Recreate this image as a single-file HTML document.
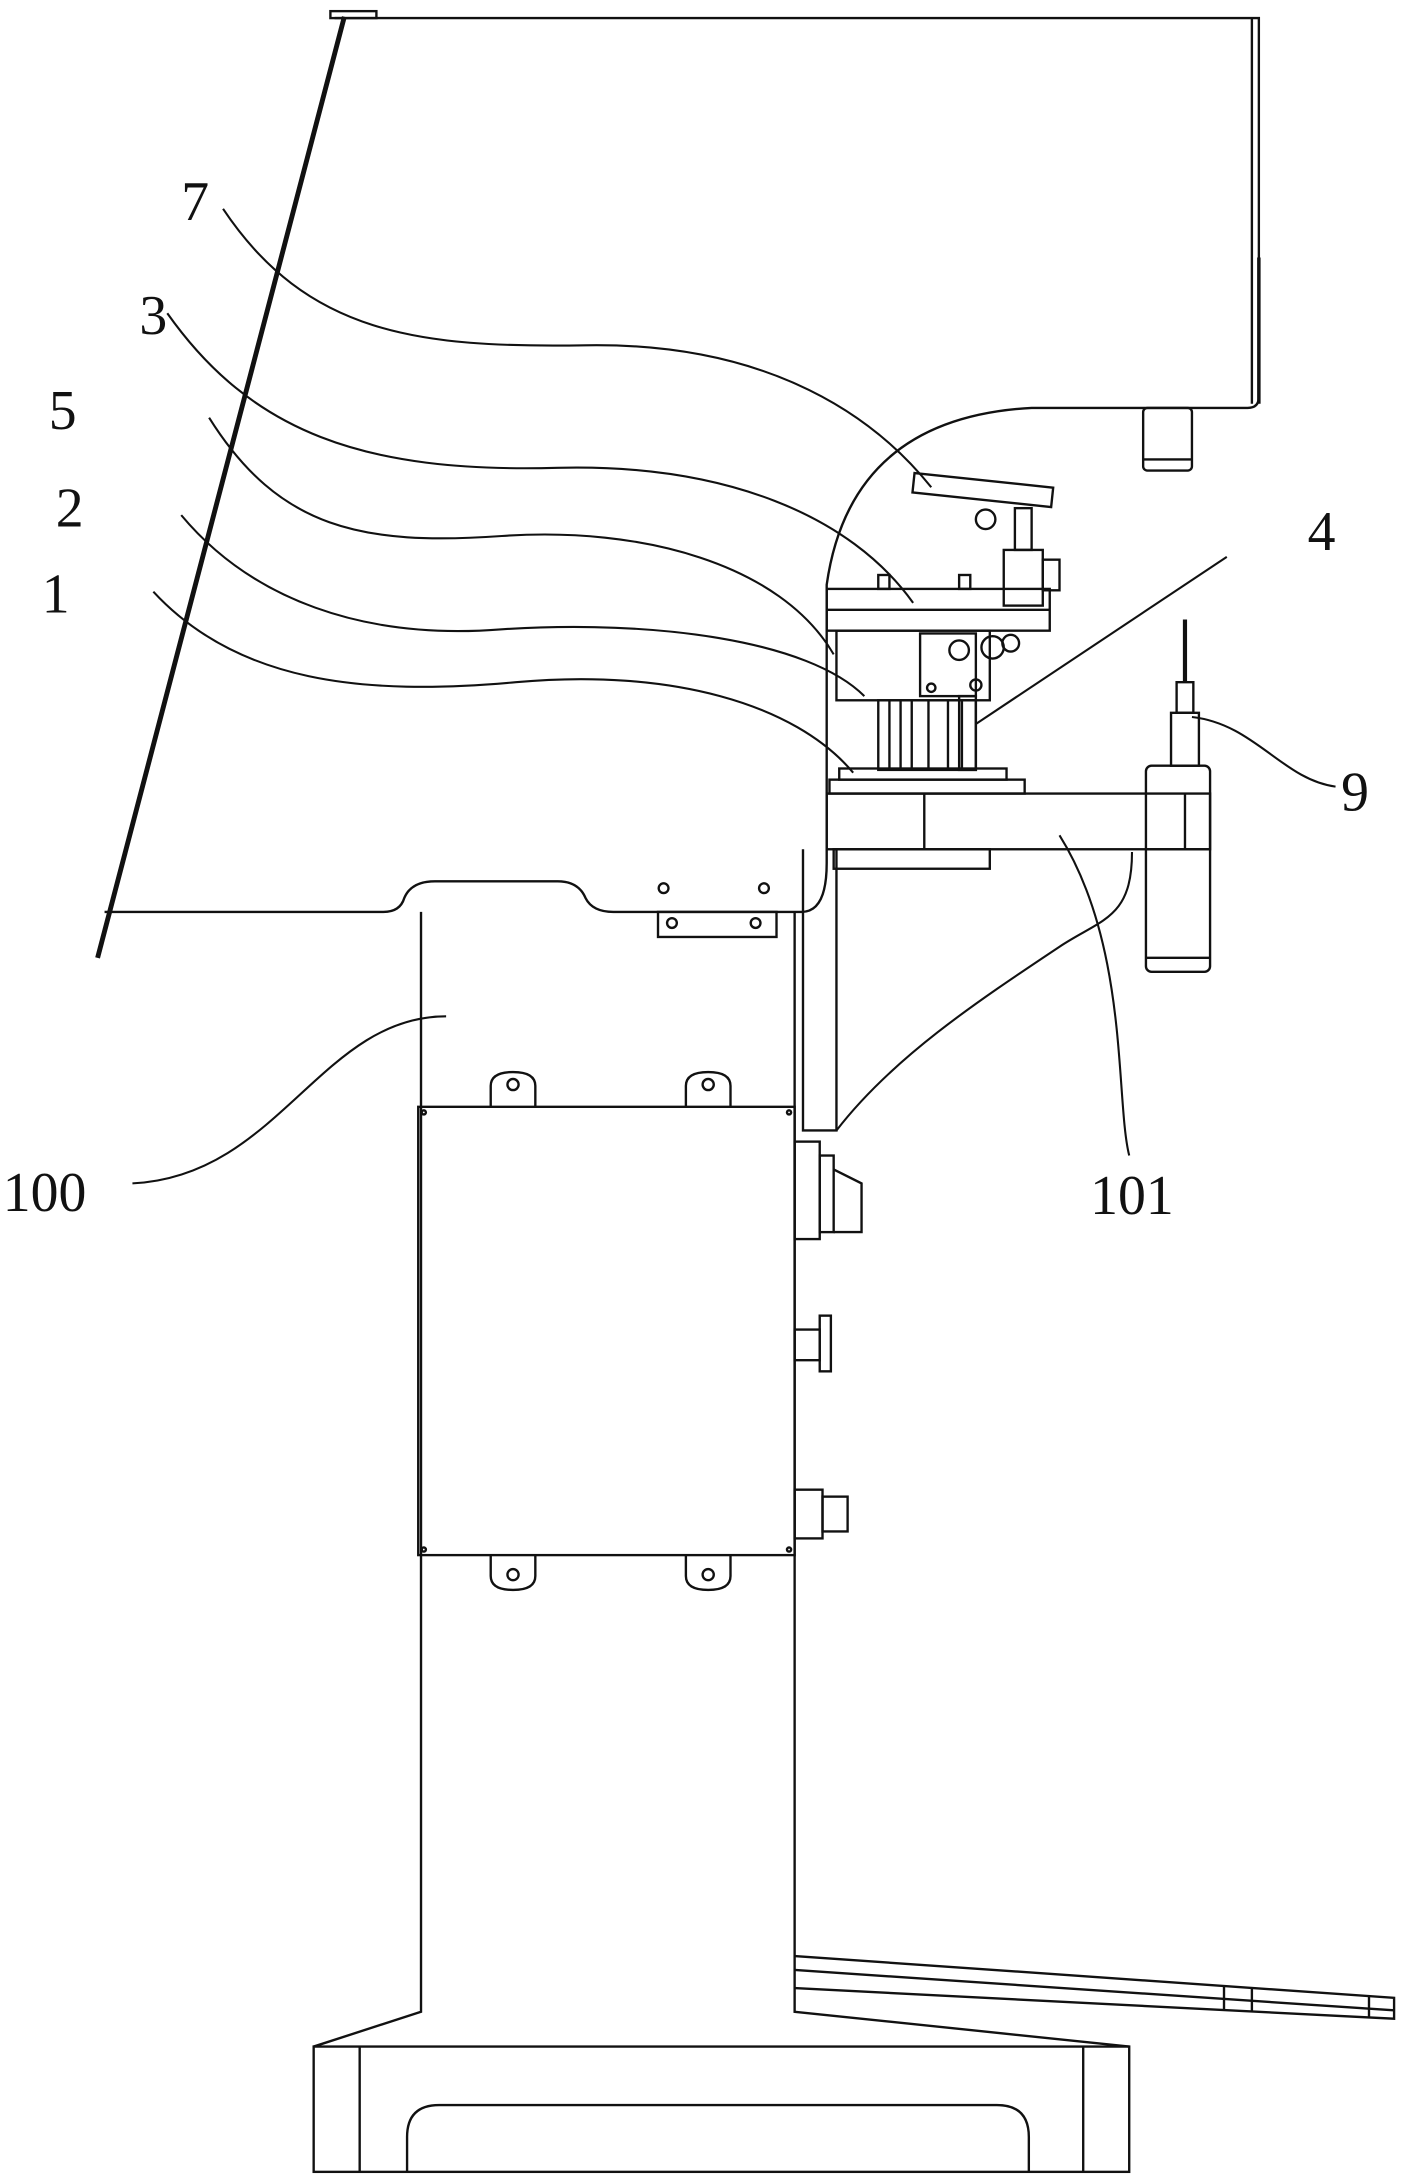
<!DOCTYPE html>
<html><head><meta charset="utf-8"><style>html,body{margin:0;padding:0;background:#fff}svg{display:block}</style></head>
<body>
<svg width="1415" height="2183" viewBox="0 0 1015 1568" preserveAspectRatio="none" xmlns="http://www.w3.org/2000/svg" fill="none" stroke="#111" stroke-width="1.7" font-family="Liberation Serif, serif">
<rect width="1015" height="1568" fill="#fff" stroke="none"/>
<path d="M240 13 L903 13 L903 285 Q903 293 895 293 L740 293 Q610 300 593 420 L593 620 Q593 655 575 655 L440 655 Q425 655 420 645 Q415 633 400 633 L312 633 Q295 633 290 645 Q287 655 275 655 L75 655"/>
<line x1="898" y1="13" x2="898" y2="290"/>
<line x1="903" y1="185" x2="903" y2="290" stroke-width="2.5"/>
<rect x="237" y="8" width="33" height="5"/>
<line x1="247" y1="12" x2="70" y2="688" stroke-width="3.5"/>
<rect x="820" y="293" width="35" height="45" rx="3"/>
<line x1="820" y1="330" x2="855" y2="330"/>
<path d="M302 655 L302 1445 L225 1470 M570 655 L570 1445 L810 1470"/>
<rect x="225" y="1470" width="585" height="90"/>
<path d="M258 1470 L258 1560 M777 1470 L777 1560"/>
<path d="M292 1560 L292 1535 Q292 1512 315 1512 L715 1512 Q738 1512 738 1535 L738 1560"/>
<rect x="472" y="655" width="85" height="18"/>
<circle cx="476" cy="638" r="3.5"/><circle cx="548" cy="638" r="3.5"/>
<circle cx="482" cy="663" r="3.5"/><circle cx="542" cy="663" r="3.5"/>
<rect x="300" y="795" width="270" height="322"/>
<circle cx="304" cy="799" r="1.5"/><circle cx="566" cy="799" r="1.5"/><circle cx="304" cy="1113" r="1.5"/><circle cx="566" cy="1113" r="1.5"/>
<path d="M352 795 L352 780 Q352 770 368 770 Q384 770 384 780 L384 795"/><circle cx="368" cy="779" r="4"/>
<path d="M492 795 L492 780 Q492 770 508 770 Q524 770 524 780 L524 795"/><circle cx="508" cy="779" r="4"/>
<path d="M352 1117 L352 1132 Q352 1142 368 1142 Q384 1142 384 1132 L384 1117"/><circle cx="368" cy="1131" r="4"/>
<path d="M492 1117 L492 1132 Q492 1142 508 1142 Q524 1142 524 1132 L524 1117"/><circle cx="508" cy="1131" r="4"/>
<rect x="570" y="820" width="18" height="70"/><rect x="588" y="830" width="10" height="55"/><path d="M598 840 L618 850 L618 885 L598 885"/>
<rect x="570" y="955" width="18" height="22"/><rect x="588" y="945" width="8" height="40"/>
<rect x="570" y="1070" width="20" height="35"/><rect x="590" y="1075" width="18" height="25"/>
<path d="M576 610 L576 812 L600 812 L600 610"/>
<rect x="593" y="570" width="275" height="40"/>
<line x1="663" y1="570" x2="663" y2="610"/><line x1="850" y1="570" x2="850" y2="610"/>
<rect x="598" y="610" width="112" height="14"/>
<rect x="822" y="550" width="46" height="148" rx="4"/>
<line x1="822" y1="610" x2="868" y2="610"/><line x1="822" y1="688" x2="868" y2="688"/>
<rect x="840" y="512" width="20" height="38"/><rect x="844" y="490" width="12" height="22"/><line x1="850" y1="445" x2="850" y2="490" stroke-width="3"/>
<rect x="595" y="560" width="140" height="10"/><rect x="602" y="552" width="120" height="8"/>
<rect x="593" y="423" width="160" height="30"/>
<line x1="593" y1="438" x2="753" y2="438"/>
<rect x="600" y="453" width="110" height="50"/>
<rect x="630" y="503" width="70" height="50"/>
<path d="M638 503 L638 553 M646 503 L646 553 M654 503 L654 553 M666 503 L666 553 M680 503 L680 553 M690 503 L690 553"/>
<rect x="660" y="455" width="40" height="45"/>
<circle cx="688" cy="467" r="7"/><circle cx="712" cy="465" r="8"/><circle cx="725" cy="462" r="6"/><circle cx="700" cy="492" r="4"/><circle cx="668" cy="494" r="3"/>
<rect x="630" y="413" width="8" height="10"/><rect x="688" y="413" width="8" height="10"/>
<rect x="655" y="345" width="100" height="14" transform="rotate(6 705 352)"/>
<circle cx="707" cy="373" r="7"/><rect x="728" y="365" width="12" height="30"/>
<rect x="720" y="395" width="28" height="40"/><rect x="748" y="402" width="12" height="22"/>
<rect x="688" y="500" width="12" height="53"/>
<g stroke-width="1.5">
<path d="M160 150 C220 240 300 250 420 248 C540 246 620 290 668 350"/>
<path d="M120 225 C180 310 260 340 400 336 C520 333 610 370 655 433"/>
<path d="M150 300 C200 380 260 392 360 385 C460 378 560 405 598 470"/>
<path d="M130 370 C180 430 260 460 360 452 C470 445 580 460 620 500"/>
<path d="M110 425 C170 490 260 500 370 490 C480 480 570 505 612 555"/>
<path d="M700 520 L880 400"/>
<path d="M855 515 C900 520 920 560 958 565"/>
<path d="M812 612 C812 660 790 660 760 680 C700 720 640 760 600 812"/>
<path d="M760 600 C810 680 800 790 810 830"/>
<path d="M95 850 C200 845 230 730 320 730"/>
</g>
<g fill="#111" stroke="none" font-size="40">
<text x="130" y="158">7</text>
<text x="100" y="240">3</text>
<text x="35" y="308">5</text>
<text x="40" y="378">2</text>
<text x="30" y="440">1</text>
<text x="938" y="395">4</text>
<text x="962" y="582">9</text>
<text x="782" y="872">101</text>
<text x="2" y="870">100</text>
</g>
<path d="M570 1405 L1000 1435 L1000 1450 L570 1428"/>
<line x1="570" y1="1415" x2="1000" y2="1444"/>
<line x1="878" y1="1426" x2="878" y2="1444"/><line x1="898" y1="1428" x2="898" y2="1445"/><line x1="982" y1="1433" x2="982" y2="1449"/>
</svg>
</body></html>
